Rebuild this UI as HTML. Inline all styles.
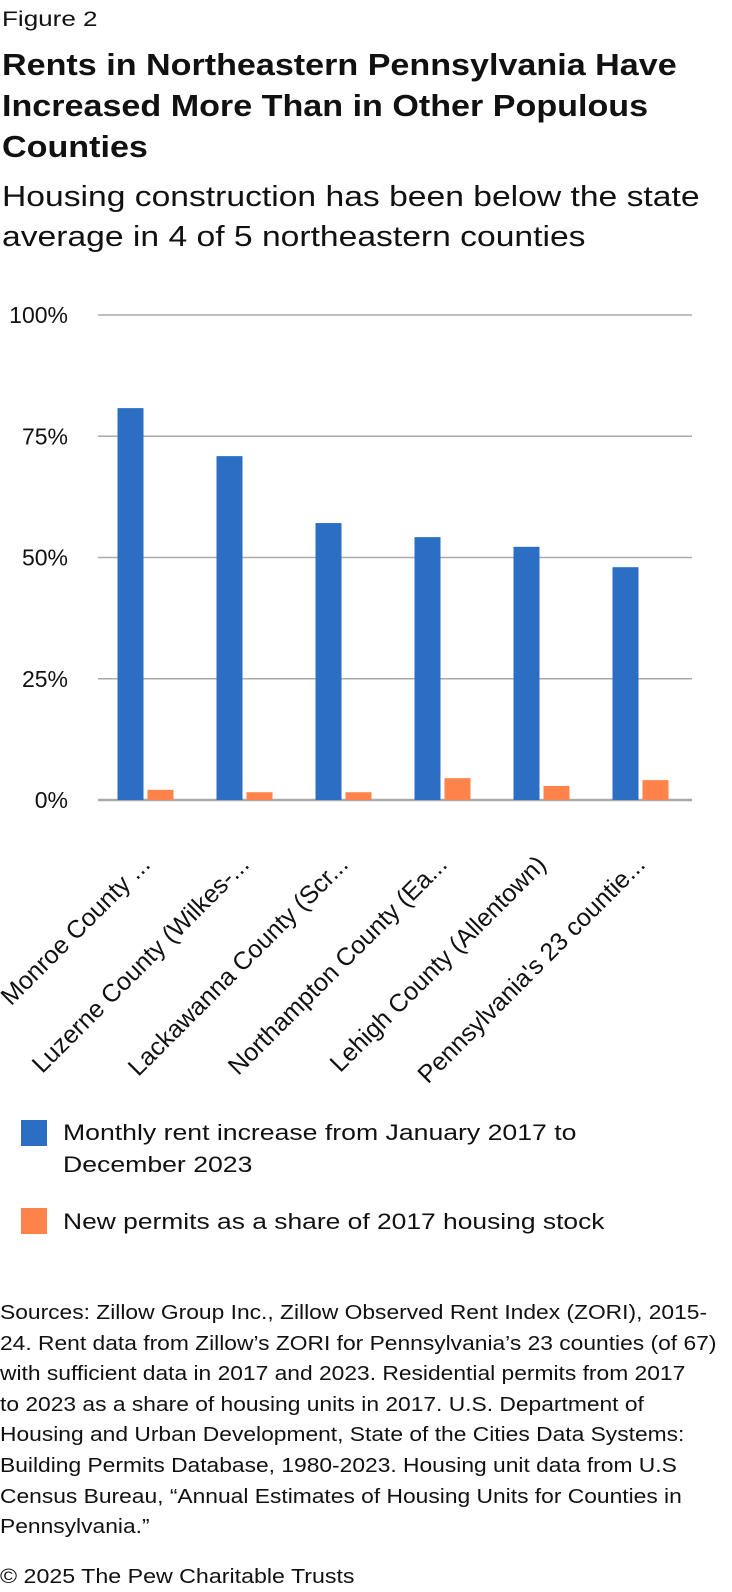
<!DOCTYPE html>
<html><head><meta charset="utf-8"><style>
body{margin:0;width:732px;height:1592px;background:#fff;font-family:"Liberation Sans",sans-serif;color:#111;position:relative;overflow:hidden}
.t{position:absolute;left:2px;white-space:nowrap;transform-origin:0 0}
</style></head><body>
<div class="t" style="top:6px;font-size:21px;line-height:28px;transform:scaleX(1.24)">Figure 2</div>
<div class="t" style="top:44px;font-size:31px;font-weight:bold;line-height:41px;transform:scaleX(1.10)">Rents in Northeastern Pennsylvania Have<br>Increased More Than in Other Populous<br>Counties</div>
<div class="t" style="top:177px;font-size:29px;line-height:40px;transform:scaleX(1.16)">Housing construction has been below the state<br>average in 4 of 5 northeastern counties</div>
<svg id="chart" width="732" height="1100" style="position:absolute;left:0;top:0"></svg>
<div style="position:absolute;left:21px;top:1120px;width:26px;height:26px;background:#2B6EC4"></div>
<div class="t" style="left:63px;top:1117px;font-size:22px;line-height:32px;transform:scaleX(1.21)">Monthly rent increase from January 2017 to<br>December 2023</div>
<div style="position:absolute;left:21px;top:1208px;width:26px;height:26px;background:#FF834A"></div>
<div class="t" style="left:63px;top:1206px;font-size:22px;line-height:32px;transform:scaleX(1.2)">New permits as a share of 2017 housing stock</div>
<div class="t" style="left:0;top:1298px;font-size:20px;line-height:30.6px;transform:scaleX(1.14)">Sources: Zillow Group Inc., Zillow Observed Rent Index (ZORI), 2015-<br>24. Rent data from Zillow’s ZORI for Pennsylvania’s 23 counties (of 67)<br>with sufficient data in 2017 and 2023. Residential permits from 2017<br>to 2023 as a share of housing units in 2017. U.S. Department of<br>Housing and Urban Development, State of the Cities Data Systems:<br>Building Permits Database, 1980-2023. Housing unit data from U.S<br>Census Bureau, “Annual Estimates of Housing Units for Counties in<br>Pennsylvania.”</div>
<div class="t" style="left:0;top:1565px;font-size:20px;line-height:24px;transform:scaleX(1.16)">© 2025 The Pew Charitable Trusts</div>
<script>
const categories=["Monroe County ...","Luzerne County (Wilkes-...","Lackawanna County (Scr...","Northampton County (Ea...","Lehigh County (Allentown)","Pennsylvania's 23 countie..."];
const rentIncrease=[80.8,70.9,57.1,54.2,52.2,48.0];
const permitShare=[2.1,1.6,1.6,4.5,2.9,4.1];
const ticks=[0,25,50,75,100];
const tickLabels=["0%","25%","50%","75%","100%"];
const svg=document.getElementById('chart');
const NS='http://www.w3.org/2000/svg';
const x0=98,x1=692,y0=800,y100=315;
const band=(x1-x0)/categories.length;
const y=v=>y0-(v/100)*(y0-y100);
const bx=i=>x0+i*band+band/2-2;
function mk(t,a){const e=document.createElementNS(NS,t);for(const k in a)e.setAttribute(k,a[k]);svg.appendChild(e);return e;}
ticks.forEach((t,i)=>{
  const l=mk('line',{x1:x0,x2:x1,y1:y(t),y2:y(t),stroke:'#aaa','stroke-width':t===0?2.5:1.5});
  
  
  const tx=mk('text',{x:68,y:y(t)+8,'text-anchor':'end','font-size':23,fill:'#111','font-family':'Liberation Sans, sans-serif'});
  tx.textContent=tickLabels[i];
  
  
});
categories.forEach((c,i)=>{
  const cx=bx(i);
  const b=mk('rect',{x:cx-28,y:y(rentIncrease[i]),width:26,height:y0-y(rentIncrease[i]),fill:'#2B6EC4'});
  
  
  const o=mk('rect',{x:cx+2,y:y(permitShare[i]),width:26,height:y0-y(permitShare[i]),fill:'#FF834A'});
  
  
  const ax=cx+6, ay=866;
  const t=mk('text',{x:ax,y:ay,'text-anchor':'end','font-size':25,fill:'#111','font-family':'Liberation Sans, sans-serif',transform:`rotate(-45 ${ax} ${ay})`});
  t.textContent=c;
  
  
});
</script>
</body></html>
